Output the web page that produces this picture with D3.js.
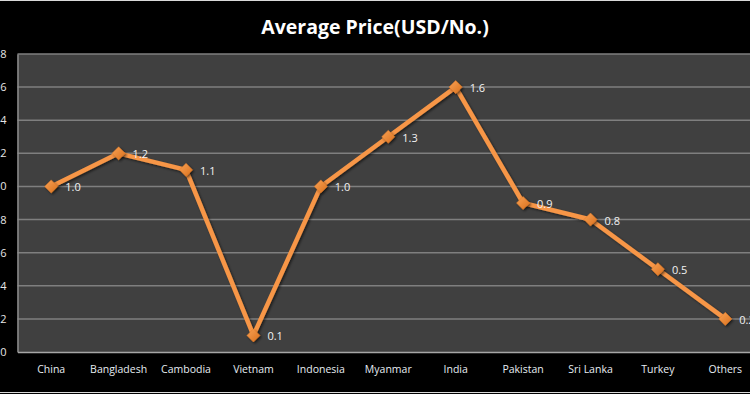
<!DOCTYPE html>
<html>
<head>
<meta charset="utf-8">
<script src="https://cdn.jsdelivr.net/npm/d3@7"></script>
<style>
  html, body { margin: 0; padding: 0; background: #000; overflow: hidden; }
  svg { display: block; }
</style>
</head>
<body>
<svg id="chart" width="750" height="394"></svg>
<script>
// data
const countries = ["China", "Bangladesh", "Cambodia", "Vietnam", "Indonesia", "Myanmar",
  "India", "Pakistan", "Sri Lanka", "Turkey", "Others"];
const avgPrice = [1.0, 1.2, 1.1, 0.1, 1.0, 1.3, 1.6, 0.9, 0.8, 0.5, 0.2];
const yTicks = [0, 0.2, 0.4, 0.6, 0.8, 1.0, 1.2, 1.4, 1.6, 1.8];
const title = "Average Price(USD/No.)";

const svg = d3.select("#chart");
const W = 750, H = 394;
const font = "'Open Sans', 'Noto Sans', sans-serif";

// plot area (runs past the right edge, like the cropped original)
const plot = { left: 17.5, top: 54, right: 759, bottom: 352 };

const x = d3.scaleBand()
  .domain(countries)
  .range([plot.left, plot.right]);

const y = d3.scaleLinear()
  .domain([0, 1.8])
  .range([plot.bottom, plot.top]);

// outer background + frame lines top / bottom
svg.append("rect").attr("width", W).attr("height", H).attr("fill", "#000");
svg.append("line").attr("x1", 0).attr("x2", W).attr("y1", 0.5).attr("y2", 0.5)
  .attr("stroke", "#d9d9d9").attr("stroke-width", 1);
svg.append("line").attr("x1", 0).attr("x2", W).attr("y1", 392.5).attr("y2", 392.5)
  .attr("stroke", "#d9d9d9").attr("stroke-width", 1);

// plot background
svg.append("rect")
  .attr("x", plot.left).attr("y", plot.top)
  .attr("width", plot.right - plot.left).attr("height", plot.bottom - plot.top)
  .attr("fill", "#404040");

// gridlines
svg.append("g")
  .attr("class", "grid")
  .selectAll("line")
  .data(yTicks.filter(d => d > 0))
  .join("line")
  .attr("x1", plot.left).attr("x2", plot.right)
  .attr("y1", d => y(d)).attr("y2", d => y(d))
  .attr("stroke", "#7f7f7f")
  .attr("stroke-width", 1.5);

// y axis (labels are cut by the left edge, as in the original)
const yAxis = d3.axisLeft(y).tickValues(yTicks).tickFormat(d3.format(".1f")).tickSize(0).tickPadding(11);
const gy = svg.append("g")
  .attr("class", "y-axis")
  .attr("transform", `translate(${plot.left},0)`)
  .call(yAxis);
gy.select(".domain").attr("stroke", "#8c8c8c").attr("stroke-width", 1.5);
gy.selectAll("text")
  .attr("fill", "#e6e6e6")
  .style("font-family", font)
  .style("font-size", "11px");

// x axis
const xAxis = d3.axisBottom(x).tickSize(0).tickPadding(14);
const gx = svg.append("g")
  .attr("class", "x-axis")
  .attr("transform", `translate(0,${plot.bottom})`)
  .call(xAxis);
gx.select(".domain").attr("stroke", "#a6a6a6").attr("stroke-width", 1.5);
gx.selectAll("text")
  .attr("fill", "#e6ecf2")
  .style("font-family", font)
  .style("font-size", "10.5px");

// shadow for line and markers
const defs = svg.append("defs");
const shadow = defs.append("filter").attr("id", "shadow")
  .attr("x", "-20%").attr("y", "-20%").attr("width", "140%").attr("height", "140%");
shadow.append("feDropShadow")
  .attr("dx", 1.5).attr("dy", 1.5).attr("stdDeviation", 1.2)
  .attr("flood-color", "#000").attr("flood-opacity", 0.55);

const grad = defs.append("linearGradient").attr("id", "markerFill")
  .attr("x1", "0").attr("y1", "0").attr("x2", "1").attr("y2", "1");
grad.append("stop").attr("offset", "0%").attr("stop-color", "#f9a255");
grad.append("stop").attr("offset", "100%").attr("stop-color", "#d9701c");

const cx = (d, i) => x(countries[i]) + x.bandwidth() / 2;

// line
const line = d3.line()
  .x((d, i) => cx(d, i))
  .y(d => y(d));

svg.append("path")
  .datum(avgPrice)
  .attr("d", line)
  .attr("fill", "none")
  .attr("stroke", "#f79646")
  .attr("stroke-width", 4.5)
  .attr("stroke-linejoin", "round")
  .attr("filter", "url(#shadow)");

// diamond markers
const diamond = d3.symbol().type(d3.symbolDiamond2).size(110);
svg.append("g")
  .selectAll("path")
  .data(avgPrice)
  .join("path")
  .attr("d", diamond)
  .attr("transform", (d, i) => `translate(${cx(d, i)},${y(d)})`)
  .attr("fill", "url(#markerFill)")
  .attr("stroke", "#e07a26")
  .attr("stroke-width", 0.5)
  .attr("filter", "url(#shadow)");

// data labels
svg.append("g")
  .selectAll("text")
  .data(avgPrice)
  .join("text")
  .attr("x", (d, i) => cx(d, i) + 14)
  .attr("y", d => y(d) + 5)
  .attr("fill", "#f2f2f2")
  .style("font-family", font)
  .style("font-size", "11px")
  .text(d => d3.format(".1f")(d));

// title
svg.append("text")
  .attr("x", 375)
  .attr("y", 34)
  .attr("text-anchor", "middle")
  .attr("fill", "#ffffff")
  .style("font-family", font)
  .style("font-weight", "bold")
  .style("font-size", "19.5px")
  .text(title);
</script>
</body>
</html>
